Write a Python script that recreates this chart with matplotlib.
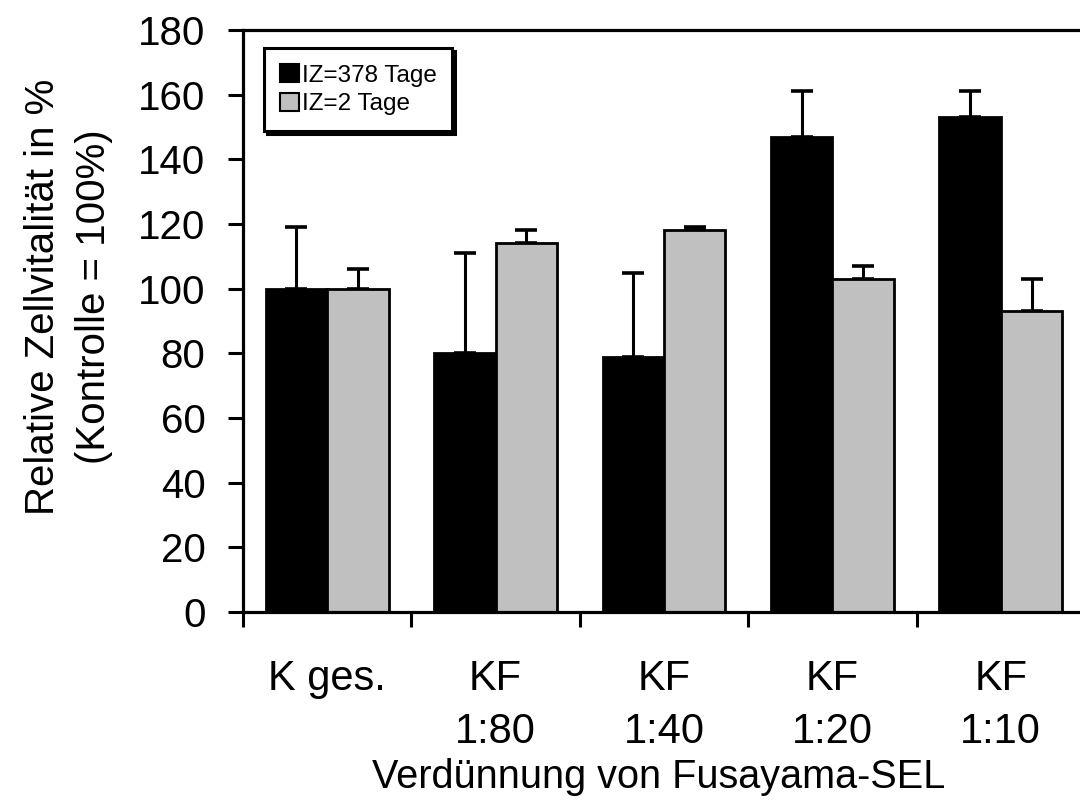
import numpy as np
import matplotlib
matplotlib.use('Agg')
import matplotlib.pyplot as plt
from matplotlib.patches import Patch

plt.rcParams['font.family'] = ['Liberation Sans', 'DejaVu Sans']

# data
categories = ['K ges.', 'KF\n1:80', 'KF\n1:40', 'KF\n1:20', 'KF\n1:10']
iz378 = [100, 80, 79, 147, 153]
iz378_err = [19, 31, 26, 14, 8]
iz2 = [100, 114, 118, 103, 93]
iz2_err = [6, 4, 1, 4, 10]
labels = ['IZ=378 Tage', 'IZ=2 Tage']
yticks = [0, 20, 40, 60, 80, 100, 120, 140, 160, 180]

fig = plt.figure(figsize=(10.8, 8), dpi=100)
ax = fig.add_axes([243/1080, 1-612/800, (1085-243)/1080, (612-30)/800])

x = np.arange(len(categories))
w = 0.365
lw = 2.0

ax.bar(x-w/2, iz378, w, color='black', edgecolor='black', linewidth=lw, zorder=2)
ax.bar(x+w/2, iz2, w, color='#c0c0c0', edgecolor='black', linewidth=lw, zorder=2)

ax.errorbar(x-w/2, iz378, yerr=[np.zeros(len(x)), iz378_err], fmt='none',
            ecolor='black', elinewidth=2.2, capsize=8, capthick=2.6, zorder=1)
ax.errorbar(x+w/2, iz2, yerr=[np.zeros(len(x)), iz2_err], fmt='none',
            ecolor='black', elinewidth=2.2, capsize=8, capthick=2.6, zorder=1)

ax.set_xlim(-0.5, len(categories)-0.5)
ax.set_ylim(0, 180)
ax.set_yticks(yticks)

# ticks at the boundaries, labels at the centres
ax.set_xticks(np.arange(len(categories)+1)-0.5)
ax.set_xticklabels([])
ax.set_xticks(x, minor=True)
ax.set_xticklabels(categories, minor=True, fontsize=30, linespacing=1.4)
ax.tick_params(axis='x', which='minor', length=0, pad=34)
ax.tick_params(axis='both', which='major', direction='out', length=11, width=2.2)
ax.tick_params(axis='y', pad=16, labelsize=29)

for s in ['left', 'bottom', 'top']:
    ax.spines[s].set_linewidth(2.3)
ax.spines['right'].set_visible(False)

ax.set_ylabel('Relative Zellvitalität in %\n(Kontrolle = 100%)', fontsize=29,
              linespacing=1.45)
ax.yaxis.set_label_coords(-0.154, 0.541)
ax.set_xlabel('Verdünnung von Fusayama-SEL', fontsize=28.5)
ax.xaxis.set_label_coords(0.494, -0.2515)

handles = [Patch(facecolor='black', edgecolor='black', linewidth=1.5),
           Patch(facecolor='#c0c0c0', edgecolor='black', linewidth=1.5)]
leg = ax.legend(handles, labels, loc='upper left', bbox_to_anchor=(0.025, 0.969),
                borderaxespad=0, fontsize=17.5, frameon=True, fancybox=False,
                shadow={'color': 'black', 'alpha': 1}, handlelength=0.8, handleheight=0.8,
                handletextpad=0.1, labelspacing=0.25, borderpad=0.65)
leg.get_frame().set_edgecolor('black')
leg.get_frame().set_linewidth(2.2)

fig.savefig('out.png', dpi=100)
